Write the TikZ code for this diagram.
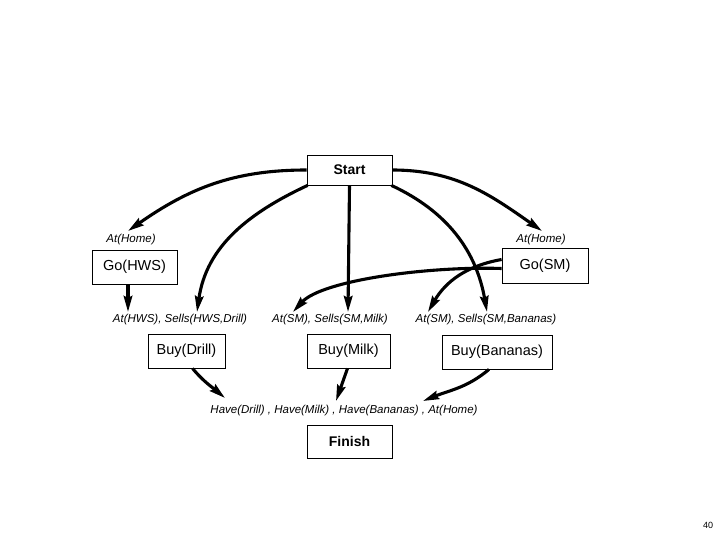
\documentclass[tikz,border=0pt]{standalone}
\usepackage{fontspec}
\setmainfont{Liberation Sans}
\usetikzlibrary{arrows.meta}
\begin{document}
\begin{tikzpicture}[x=1pt,y=-1pt,
  box/.style={draw,line width=0.8pt,inner sep=0pt,font=\fontsize{14.5}{16}\selectfont},
  lab/.style={inner sep=0pt,font=\fontsize{11.5}{13}\selectfont\itshape},
  link/.style={line width=3.1pt,-{Stealth[length=16pt,width=8.5pt,inset=2pt]}}]
\useasboundingbox (0,0) rectangle (720,540);
% boxes
\node[box,minimum width=85,minimum height=30,font=\fontsize{14}{16}\selectfont\bfseries] (start) at (349.5,170) {Start};
\node[box,minimum width=85,minimum height=34] (gohws) at (134.5,267) {Go(HWS)};
\node[box,minimum width=86,minimum height=35] (gosm) at (545,265.5) {Go(SM)};
\node[box,minimum width=77,minimum height=34] (buydrill) at (186.5,351) {Buy(Drill)};
\node[box,minimum width=83,minimum height=34] (buymilk) at (348.5,351) {Buy(Milk)};
\node[box,minimum width=110,minimum height=34] (buyban) at (497,352) {Buy(Bananas)};
\node[box,minimum width=85,minimum height=33,font=\fontsize{14}{16}\selectfont\bfseries] (finish) at (349.5,441.5) {Finish};
% labels
\node[lab] (ahl) at (131,240) {At(Home)};
\node[lab] (ahr) at (541,240) {At(Home)};
\node[lab] (lhws) at (180,320) {At(HWS), Sells(HWS,Drill)};
\node[lab] (lmilk) at (330,320) {At(SM), Sells(SM,Milk)};
\node[lab] (lban) at (486,320) {At(SM), Sells(SM,Bananas)};
\node[lab] (lfin) at (344,411) {Have(Drill) , Have(Milk) , Have(Bananas) , At(Home)};
\node[inner sep=0pt,font=\fontsize{9}{10}\selectfont] (page) at (708,525) {40};
% tips
\coordinate (t1) at (128,231);
\coordinate (t2) at (197,312);
\coordinate (t3) at (348,312);
\coordinate (t4) at (542,231);
\coordinate (t5) at (487,312);
\coordinate (t6) at (293,312);
\coordinate (t7) at (428,312);
\coordinate (t8) at (128,312);
\coordinate (t9) at (225,398);
\coordinate (t10) at (336,401);
\coordinate (t11) at (423,401);
% connectors
\draw[link] (start.west) to[out=180,in=35] (t1);
\draw[link] ([xshift=1pt]start.south west) to[out=205,in=82] (t2);
\draw[link] (start.south) -- (t3);
\draw[link] (start.east) to[out=0,in=145] (t4);
\draw[link] ([xshift=-1pt]start.south east) to[out=-25,in=100] (t5);
\draw[link] ([yshift=-3pt]gosm.west) .. controls (430,266) and (322,280) .. (t6);
\draw[link] ([yshift=6pt]gosm.west) to[out=190,in=60] (t7);
\draw[link] ([xshift=-6.5pt]gohws.south) -- (t8);
\draw[link] ([xshift=6pt]buydrill.south) to[out=-50,in=140] (t9);
\draw[link] ([xshift=-1pt]buymilk.south) -- (t10);
\draw[link] ([xshift=-8pt]buyban.south) to[out=-140,in=22] (t11);
\end{tikzpicture}
\end{document}
